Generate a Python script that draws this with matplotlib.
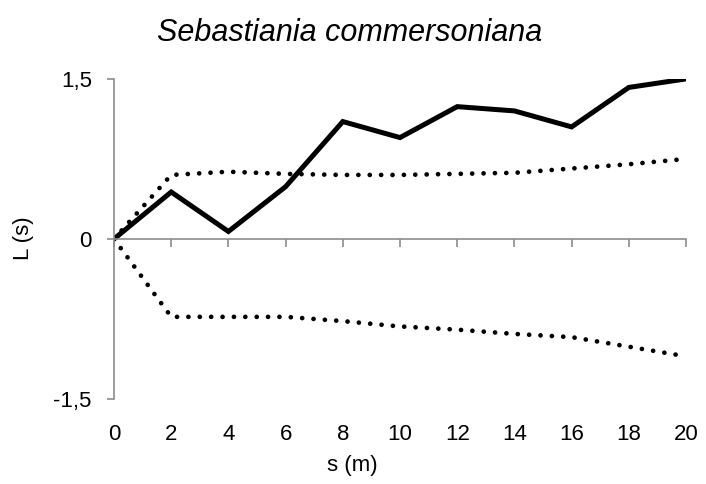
import matplotlib.pyplot as plt

# distance classes and Ripley L(s) values
s = [0, 2, 4, 6, 8, 10, 12, 14, 16, 18, 20]
L_obs = [0, 0.44, 0.07, 0.49, 1.10, 0.95, 1.24, 1.20, 1.05, 1.42, 1.50]
L_upper = [0, 0.60, 0.63, 0.61, 0.60, 0.60, 0.61, 0.62, 0.66, 0.70, 0.75]
L_lower = [0, -0.73, -0.73, -0.73, -0.77, -0.82, -0.85, -0.89, -0.92, -1.01, -1.10]

yticks = [-1.5, 0, 1.5]
ytick_labels = ["-1,5", "0", "1,5"]

plt.rcParams['font.family'] = ['Liberation Sans', 'DejaVu Sans']

fig = plt.figure(figsize=(7.06, 4.84), dpi=100)
ax = fig.add_axes([0.1615, 0.1756, 0.8102, 0.6614])

dotted = (0, (0.01, 2.4))
ax.plot(s, L_upper, color="black", lw=3.4, linestyle=dotted, dash_capstyle="round")
ax.plot(s, L_lower, color="black", lw=3.4, linestyle=dotted, dash_capstyle="round")
ax.plot(s, L_obs, color="black", lw=3.6, solid_joinstyle="miter")

ax.set_xlim(0, 20)
ax.set_ylim(-1.5, 1.5)

grey = "#8c8c8c"
for side in ["top", "right"]:
    ax.spines[side].set_visible(False)
ax.spines["bottom"].set_position(("data", 0))
ax.spines["bottom"].set_color(grey)
ax.spines["left"].set_color(grey)
ax.spines["bottom"].set_linewidth(1.2)
ax.spines["left"].set_linewidth(1.2)

ax.set_xticks(s)
ax.tick_params(axis="x", direction="out", length=6, width=1.2, color=grey, labelbottom=False)
ax.set_yticks(yticks)
ax.set_yticklabels(ytick_labels)
ax.tick_params(axis="y", direction="out", length=5, width=1.2, color=grey, labelsize=16, pad=11)

# tick labels for s at the bottom of the plot area
sec = ax.secondary_xaxis(0)
sec.set_xticks(s)
sec.tick_params(length=0, labelsize=16, pad=18)
sec.spines["bottom"].set_visible(False)

fig.text(352 / 706, 1 - 465 / 484, "s (m)", fontsize=16, ha="center", va="center")
fig.text(24 / 706, 1 - 238 / 484, "L (s)", fontsize=16, ha="center", va="center", rotation=90)
fig.text(350 / 706, 1 - 33 / 484, "Sebastiania commersoniana", fontsize=22,
         style="italic", ha="center", va="center")

fig.savefig("out.png", dpi=100)
